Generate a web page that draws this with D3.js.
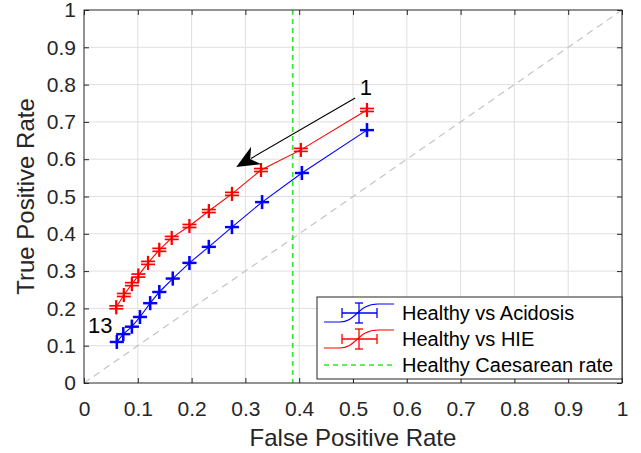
<!DOCTYPE html>
<html>
<head>
<meta charset="utf-8">
<script src="https://cdn.jsdelivr.net/npm/d3@7"></script>
<style>
  html, body { margin: 0; padding: 0; background: #fff; }
  svg { display: block; font-family: "Liberation Sans", Arial, Helvetica, sans-serif; }
</style>
</head>
<body>
<svg id="chart" width="641" height="453"></svg>
<script>
// ROC points, thresholds 1..13
const fprAcid = [0.526, 0.405, 0.331, 0.275, 0.232, 0.196, 0.165, 0.140, 0.123, 0.104, 0.089, 0.073, 0.061];
const tprAcid = [0.678, 0.563, 0.485, 0.418, 0.365, 0.322, 0.280, 0.244, 0.214, 0.177, 0.151, 0.131, 0.110];
const fprHIE  = [0.526, 0.403, 0.329, 0.275, 0.232, 0.196, 0.163, 0.140, 0.119, 0.101, 0.089, 0.074, 0.060];
const tprHIE  = [0.732, 0.625, 0.571, 0.507, 0.461, 0.421, 0.389, 0.357, 0.322, 0.288, 0.265, 0.236, 0.203];
// tiny error bars (fpr, tpr)
const errAcid = [0.0008, 0.001];
const errHIE  = [0.0005, 0.004];
const caesareanRate = 0.388;
const tickVals = [0, 0.1, 0.2, 0.3, 0.4, 0.5, 0.6, 0.7, 0.8, 0.9, 1];
const legendLabels = ['Healthy vs Acidosis', 'Healthy vs HIE', 'Healthy Caesarean rate'];

const svg = d3.select('#chart');
const L = 84, R = 622, T = 10, B = 383;
const x = d3.scaleLinear().domain([0, 1]).range([L, R]);
const y = d3.scaleLinear().domain([0, 1]).range([B, T]);
const axisCol = '#262626';
const fmt = d => (d === 0 || d === 1) ? String(d) : d.toFixed(1);

// grid
const grid = svg.append('g');
grid.selectAll('.gx').data(tickVals.slice(1, -1)).enter().append('line')
  .attr('x1', d => x(d)).attr('x2', d => x(d)).attr('y1', T).attr('y2', B)
  .attr('stroke', '#dfdfdf').attr('stroke-width', 1);
grid.selectAll('.gy').data(tickVals.slice(1, -1)).enter().append('line')
  .attr('y1', d => y(d)).attr('y2', d => y(d)).attr('x1', L).attr('x2', R)
  .attr('stroke', '#dfdfdf').attr('stroke-width', 1);

// chance diagonal
svg.append('line')
  .attr('x1', x(0)).attr('y1', y(0)).attr('x2', x(1)).attr('y2', y(1))
  .attr('stroke', '#c4c4c4').attr('stroke-width', 1.2).attr('stroke-dasharray', '7,5');

// caesarean rate
svg.append('line')
  .attr('x1', x(caesareanRate)).attr('x2', x(caesareanRate)).attr('y1', T).attr('y2', B)
  .attr('stroke', '#2ee82e').attr('stroke-width', 1.6).attr('stroke-dasharray', '5,4');

const line = d3.line().x(d => x(d[0])).y(d => y(d[1]));

function drawSeries(fpr, tpr, err, col) {
  const pts = fpr.map((f, i) => [f, tpr[i]]);
  svg.append('path').datum(pts)
    .attr('d', line).attr('fill', 'none').attr('stroke', col).attr('stroke-width', 1.1);
  const cap = 7;
  const g = svg.append('g').attr('stroke', col).attr('stroke-width', 1.7);
  pts.forEach(p => {
    const px = x(p[0]), py = y(p[1]);
    const ex = x(p[0] + err[0]) - px, ey = py - y(p[1] + err[1]);
    // vertical bar with horizontal caps
    g.append('line').attr('x1', px).attr('x2', px).attr('y1', py - ey).attr('y2', py + ey);
    [-ey, ey].forEach(o => g.append('line')
      .attr('x1', px - cap).attr('x2', px + cap).attr('y1', py + o).attr('y2', py + o));
    // horizontal bar with vertical caps
    g.append('line').attr('x1', px - ex).attr('x2', px + ex).attr('y1', py).attr('y2', py);
    [-ex, ex].forEach(o => g.append('line')
      .attr('x1', px + o).attr('x2', px + o).attr('y1', py - cap).attr('y2', py + cap));
  });
}
drawSeries(fprAcid, tprAcid, errAcid, '#0000ff');
drawSeries(fprHIE, tprHIE, errHIE, '#ff0000');

// arrow annotation (threshold direction 1 -> 13)
const a0 = [x(0.504), y(0.764)], a1 = [x(0.283), y(0.579)];
const dx = a1[0] - a0[0], dy = a1[1] - a0[1], len = Math.hypot(dx, dy);
const ux = dx / len, uy = dy / len, nx = -uy, ny = ux;
const hl = 23, hw = 10;
const base = [a1[0] - ux * hl, a1[1] - uy * hl];
svg.append('line')
  .attr('x1', a0[0]).attr('y1', a0[1]).attr('x2', base[0] + ux * 6).attr('y2', base[1] + uy * 6)
  .attr('stroke', '#000').attr('stroke-width', 1.1);
svg.append('path')
  .attr('d', `M${a1[0]},${a1[1]} L${base[0] + nx * hw},${base[1] + ny * hw} L${a1[0] - ux * hl * 0.7},${a1[1] - uy * hl * 0.7} L${base[0] - nx * hw},${base[1] - ny * hw} Z`)
  .attr('fill', '#000');

svg.append('text').attr('x', x(0.524)).attr('y', y(0.794)).attr('dy', '0.35em')
  .attr('text-anchor', 'middle').attr('font-size', 22).text('1');
svg.append('text').attr('x', x(0.030)).attr('y', y(0.155)).attr('dy', '0.35em')
  .attr('text-anchor', 'middle').attr('font-size', 22).text('13');

// axes
const xAxis = svg.append('g').attr('transform', `translate(0,${B})`)
  .call(d3.axisBottom(x).tickValues(tickVals).tickFormat(fmt).tickSizeInner(-5).tickSizeOuter(0).tickPadding(18));
const yAxis = svg.append('g').attr('transform', `translate(${L},0)`)
  .call(d3.axisLeft(y).tickValues(tickVals).tickFormat(fmt).tickSizeInner(-5).tickSizeOuter(0).tickPadding(8));
svg.append('g').attr('transform', `translate(0,${T})`)
  .call(d3.axisTop(x).tickValues(tickVals).tickFormat('').tickSizeInner(-5).tickSizeOuter(0));
svg.append('g').attr('transform', `translate(${R},0)`)
  .call(d3.axisRight(y).tickValues(tickVals).tickFormat('').tickSizeInner(-5).tickSizeOuter(0));
svg.selectAll('.domain').remove();
svg.selectAll('.tick line').attr('stroke', axisCol);
[xAxis, yAxis].forEach(a => a.selectAll('text')
  .attr('fill', axisCol).attr('font-size', 21).attr('font-family', '"Liberation Sans", Arial, sans-serif'));
xAxis.selectAll('text').attr('dy', null).attr('y', 33);

svg.append('rect').attr('x', L).attr('y', T).attr('width', R - L).attr('height', B - T)
  .attr('fill', 'none').attr('stroke', axisCol).attr('stroke-width', 1);

// axis labels
svg.append('text').attr('x', (L + R) / 2).attr('y', 446).attr('text-anchor', 'middle')
  .attr('font-size', 24).attr('fill', axisCol).text('False Positive Rate');
svg.append('text').attr('transform', `translate(34,${(T + B) / 2}) rotate(-90)`)
  .attr('text-anchor', 'middle').attr('font-size', 24).attr('fill', axisCol).text('True Positive Rate');

// legend
const lg = svg.append('g');
lg.append('rect').attr('x', 317).attr('y', 297).attr('width', 305).attr('height', 82)
  .attr('fill', '#fff').attr('stroke', axisCol).attr('stroke-width', 1);
const rowY = [313, 339, 365];
const legCols = ['#0000ff', '#ff0000', '#2ee82e'];
rowY.forEach((ry, i) => {
  const col = legCols[i];
  if (i < 2) {
    lg.append('path')
      .attr('d', `M324,${ry + 9} L340,${ry + 9} C356,${ry + 9} 358,${ry - 9} 378,${ry - 9} L394,${ry - 9}`)
      .attr('fill', 'none').attr('stroke', col).attr('stroke-width', 1.1);
    const eg = lg.append('g').attr('stroke', col).attr('stroke-width', 1.3);
    eg.append('line').attr('x1', 359).attr('x2', 359).attr('y1', ry - 10).attr('y2', ry + 10);
    eg.append('line').attr('x1', 355).attr('x2', 363).attr('y1', ry - 10).attr('y2', ry - 10);
    eg.append('line').attr('x1', 355).attr('x2', 363).attr('y1', ry + 10).attr('y2', ry + 10);
    eg.append('line').attr('x1', 342).attr('x2', 377).attr('y1', ry).attr('y2', ry);
    eg.append('line').attr('x1', 342).attr('x2', 342).attr('y1', ry - 5).attr('y2', ry + 5);
    eg.append('line').attr('x1', 377).attr('x2', 377).attr('y1', ry - 5).attr('y2', ry + 5);
  } else {
    lg.append('line').attr('x1', 324).attr('x2', 394).attr('y1', ry).attr('y2', ry)
      .attr('stroke', col).attr('stroke-width', 1.6).attr('stroke-dasharray', '5,4');
  }
  lg.append('text').attr('x', 402).attr('y', ry).attr('dy', '0.35em')
    .attr('font-size', 20).attr('fill', '#000').text(legendLabels[i]);
});
</script>
</body>
</html>
